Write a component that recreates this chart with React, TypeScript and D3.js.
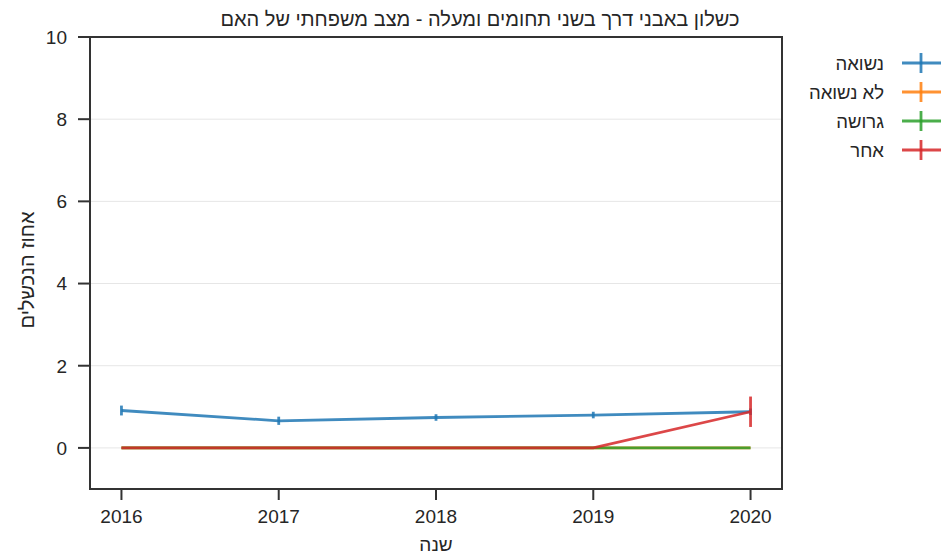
import React from "react";
import * as d3 from "d3";

const years = [2016, 2017, 2018, 2019, 2020];
const seriesNames = ["נשואה", "לא נשואה", "גרושה", "אחר"];
const seriesColors = ["#1f77b4", "#ff7f0e", "#2ca02c", "#d62728"];
const marriedVals = [0.91, 0.66, 0.74, 0.8, 0.88];
const marriedErr = [0.12, 0.1, 0.08, 0.08, 0.08];
const unmarriedVals = [0, 0, 0, 0, 0];
const unmarriedErr = [0, 0, 0, 0, 0];
const divorcedVals = [0, 0, 0, 0, 0];
const divorcedErr = [0, 0, 0, 0, 0];
const otherVals = [0, 0, 0, 0, 0.88];
const otherErr = [0, 0, 0, 0, 0.37];
const yTicks = [0, 2, 4, 6, 8, 10];

const W = 942, H = 554;
const left = 90, right = 782, top = 37, bottom = 489;
const font = "Liberation Sans, Arial, sans-serif";
const fs = 19;

export default function App() {
  const x = d3.scaleLinear().domain([2015.8, 2020.2]).range([left, right]);
  const y = d3.scaleLinear().domain([-1, 10]).range([bottom, top]);
  const line = d3.line<number>().x((_, i) => x(years[i])).y((v) => y(v));
  const series = [
    { vals: marriedVals, err: marriedErr },
    { vals: unmarriedVals, err: unmarriedErr },
    { vals: divorcedVals, err: divorcedErr },
    { vals: otherVals, err: otherErr },
  ];
  return (
    <svg width={W} height={H} style={{ position: "absolute", left: 0, top: 0, background: "#fff" }}>
      <rect x={0} y={0} width={W} height={H} fill="#fff" />
      {yTicks.map((t) => (
        <line key={t} x1={left} x2={right} y1={y(t)} y2={y(t)} stroke="#e6e6e6" strokeWidth={1} />
      ))}
      {series.map((s, si) => (
        <g key={si}>
          <path d={line(s.vals) || ""} fill="none" stroke={seriesColors[si]} strokeWidth={2.8} strokeOpacity={0.85} />
          {s.vals.map((v, i) =>
            s.err[i] > 0 ? (
              <line key={i} x1={x(years[i])} x2={x(years[i])} y1={y(v - s.err[i])} y2={y(v + s.err[i])}
                stroke={seriesColors[si]} strokeWidth={2.8} strokeOpacity={0.85} />
            ) : null
          )}
        </g>
      ))}
      <rect x={left} y={top} width={right - left} height={bottom - top} fill="none" stroke="#333" strokeWidth={2} />
      {yTicks.map((t) => (
        <g key={t}>
          <line x1={left - 12} x2={left} y1={y(t)} y2={y(t)} stroke="#333" strokeWidth={2} />
          <text x={left - 23} y={y(t)} dy="0.36em" textAnchor="end" fontSize={fs} fontFamily={font} fill="#262626">{t}</text>
        </g>
      ))}
      {years.map((t) => (
        <g key={t}>
          <line x1={x(t)} x2={x(t)} y1={bottom} y2={bottom + 11} stroke="#333" strokeWidth={2} />
          <text x={x(t)} y={bottom + 34} textAnchor="middle" fontSize={fs} fontFamily={font} fill="#262626">{t}</text>
        </g>
      ))}
      <text x={(left + right) / 2} y={551} textAnchor="middle" fontSize={19} fontFamily={font} fill="#262626">שנה</text>
      <text transform={`translate(34,${270}) rotate(-90)`} textAnchor="middle" fontSize={20} fontFamily={font} fill="#262626">אחוז הנכשלים</text>
      <text x={480} y={26} textAnchor="middle" fontSize={20} fontFamily={font} fill="#262626">כשלון באבני דרך בשני תחומים ומעלה - מצב משפחתי של האם</text>
      {seriesNames.map((n, i) => {
        const ly = 63 + i * 29;
        return (
          <g key={n}>
            <line x1={902} x2={941} y1={ly} y2={ly} stroke={seriesColors[i]} strokeWidth={2.8} strokeOpacity={0.85} />
            <line x1={921} x2={921} y1={ly - 10} y2={ly + 10} stroke={seriesColors[i]} strokeWidth={2.8} strokeOpacity={0.85} />
            <text x={884} y={ly} dy="0.36em" textAnchor="end" fontSize={18.5} fontFamily={font} fill="#262626">{n}</text>
          </g>
        );
      })}
    </svg>
  );
}
